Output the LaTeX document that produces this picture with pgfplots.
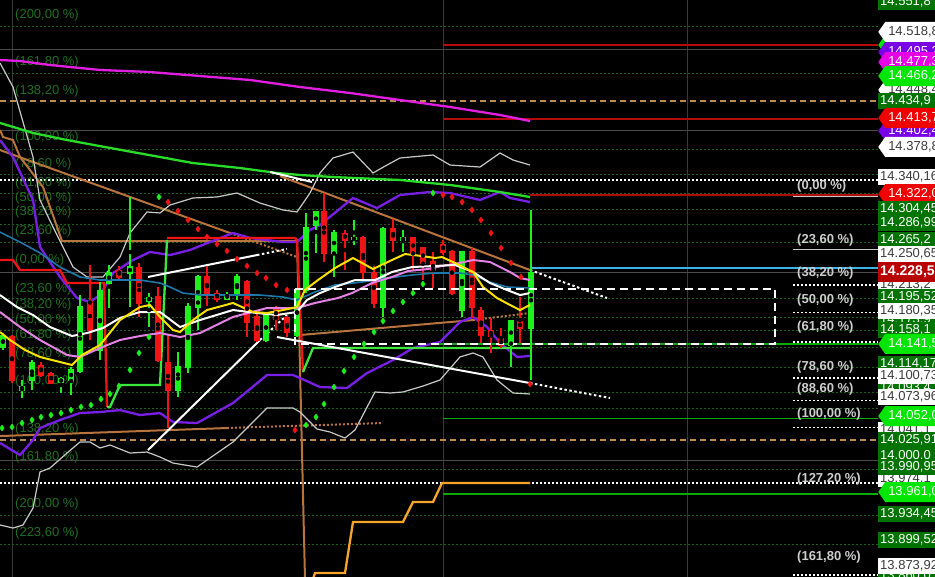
\documentclass[border=0pt]{standalone}
\usepackage{fontspec}
\setmainfont{Liberation Sans}
\usepackage{pgfplots}
\pgfplotsset{compat=1.18}
\usepackage{pgfplotstable}
\usetikzlibrary{shapes.symbols}

\definecolor{gridg}{RGB}{30,95,30}
\definecolor{fibtxt}{RGB}{30,112,30}
\definecolor{fibw}{RGB}{205,205,205}
\definecolor{grayln}{RGB}{75,75,75}
\definecolor{vgrid}{RGB}{55,55,55}
\definecolor{cgreen}{RGB}{30,240,30}
\definecolor{cred}{RGB}{240,20,20}
\definecolor{myellow}{RGB}{250,225,0}
\definecolor{mpink}{RGB}{230,130,230}
\definecolor{mblue}{RGB}{30,120,170}
\definecolor{mpurple}{RGB}{120,30,230}
\definecolor{lgray}{RGB}{200,200,200}
\definecolor{mgreen}{RGB}{40,220,40}
\definecolor{mmagenta}{RGB}{225,30,225}
\definecolor{brown}{RGB}{185,115,60}
\definecolor{orangel}{RGB}{245,165,40}
\definecolor{dred}{RGB}{180,10,10}
\definecolor{lvlgreen}{RGB}{10,170,10}
\definecolor{odash}{RGB}{190,140,80}
\definecolor{ltgreen}{RGB}{60,230,60}
\definecolor{cyanl}{RGB}{60,180,230}
\definecolor{lbdark}{RGB}{0,115,0}
\definecolor{lbbright}{RGB}{0,230,0}
\definecolor{lbred}{RGB}{240,0,0}
\definecolor{lbcur}{RGB}{185,0,0}
\definecolor{lbmag}{RGB}{230,0,230}
\definecolor{lbpur}{RGB}{120,0,230}
\definecolor{lbtxt}{RGB}{60,60,60}

% candles: x o h l c
\pgfplotstableread{
x o h l c
3 14138.3 14155.2 14134.7 14151.6
22 14086.4 14098.5 14076.7 14091.2
32 14098.5 14122.6 14086.4 14119.0
61 14096.1 14102.1 14082.8 14099.7
71 14098.5 14114.2 14080.4 14110.6
80 14109.3 14201.1 14106.9 14187.8
100 14134.7 14216.8 14122.6 14207.2
109 14215.6 14237.4 14185.4 14228.9
130 14227.7 14319.5 14186.6 14234.9
149 14193.9 14203.5 14162.5 14198.7
178 14086.4 14132.3 14077.9 14114.2
188 14114.2 14191.5 14106.9 14186.6
198 14186.6 14225.3 14158.9 14222.9
227 14196.3 14204.8 14195.1 14202.3
237 14203.5 14226.5 14195.1 14222.9
266 14146.8 14179.4 14144.4 14177.0
297 14152.8 14209.6 14150.4 14207.2
306 14207.2 14300.2 14203.5 14283.3
316 14285.7 14302.6 14251.9 14301.4
334 14251.9 14279.6 14222.9 14276.0
354 14268.0 14291.7 14261.5 14270.0
383 14186.6 14283.3 14174.6 14282.0
403 14267.6 14279.6 14253.1 14270.0
462 14183.0 14254.3 14174.6 14253.1
511 14140.7 14170.9 14114.2 14170.9
531 14161.3 14303.8 14098.5 14228.5
}\greenc

\pgfplotstableread{
x o h l c
12 14150.4 14152.8 14094.8 14098.5
41 14116.6 14120.2 14102.1 14104.5
51 14106.9 14108.1 14093.6 14094.8
90 14192.7 14237.4 14146.8 14158.9
119 14231.3 14236.2 14220.5 14222.9
139 14234.9 14239.8 14174.6 14191.5
158 14198.7 14210.8 14120.2 14122.6
168 14120.2 14152.8 14040.5 14086.4
207 14222.9 14236.2 14187.8 14203.5
217 14203.5 14207.2 14192.7 14196.3
247 14218.0 14219.2 14150.4 14168.5
257 14174.6 14179.4 14144.4 14146.8
276 14186.6 14187.8 14158.9 14172.1
287 14173.4 14175.8 14150.4 14156.5
324 14301.4 14324.3 14241.0 14251.9
345 14276.0 14279.6 14231.3 14267.6
363 14270.0 14272.4 14219.2 14228.9
374 14227.7 14236.2 14185.4 14191.5
393 14282.0 14292.9 14253.1 14267.6
413 14270.0 14271.2 14231.3 14251.9
423 14257.9 14259.1 14219.2 14239.8
433 14241.0 14253.1 14209.6 14231.3
443 14262.7 14267.6 14249.4 14253.1
452 14253.1 14255.5 14201.1 14203.5
472 14253.1 14257.9 14173.4 14186.6
481 14183.0 14186.6 14143.2 14152.8
491 14158.9 14173.4 14131.1 14151.6
501 14148.0 14161.3 14137.1 14140.7
520 14168.5 14198.7 14143.2 14161.3
}\redc

\tikzset{
  fibl/.style={anchor=west, inner sep=0pt, font=\fontsize{13}{15}\selectfont, text=fibtxt},
  fibr/.style={anchor=west, inner sep=0pt, font=\fontsize{13}{15}\selectfont\bfseries, text=fibw},
  pbox/.style={anchor=west, inner xsep=2pt, inner ysep=0pt, minimum height=16pt,
    text width=62pt, align=left, font=\fontsize{13}{15}\selectfont},
  parr/.style={pbox, shape=signal, signal to=west, signal pointer angle=110,
    minimum height=20pt, inner xsep=3pt},
}

\begin{document}
\begin{tikzpicture}
\begin{axis}[
  width=935pt, height=577pt, scale only axis,
  xmin=0, xmax=935, ymin=13860.6, ymax=14557.4,
  axis line style={draw=none}, ticks=none,
  axis background/.style={fill=black},
]
% vertical separators
\addplot[vgrid, line width=1pt] coordinates {(12,13860.6)(12,14557.4)};
\addplot[vgrid, line width=0.8pt] coordinates {(443,13860.6)(443,14557.4)};
\addplot[vgrid, line width=0.8pt] coordinates {(687,13860.6)(687,14557.4)};

% dotted green grid levels
\foreach \p in {14526.0,14469.2,14377.4,14347.3,14324.3,14304.45,14286.99,14265.2,
                14197.5,14173.9,14158.1,14138.3,14114.17,14084.0,14064.7,
                13990.95,13934.45,13899.52}{
  \edef\tmp{\noexpand\addplot[gridg, line width=0.8pt, dash pattern=on 2pt off 2pt]
    coordinates {(0,\p)(878,\p)};}\tmp
}
% gray solid levels
\addplot[grayln, line width=1pt] coordinates {(0,14498.2)(878,14498.2)};
\addplot[grayln, line width=1pt] coordinates {(0,14399.2)(878,14399.2)};
\addplot[grayln, line width=1pt] coordinates {(0,14228.5)(878,14228.5)};
\addplot[grayln, line width=1pt] coordinates {(0,14000.7)(878,14000.7)};
% orange dashed levels
\addplot[odash, line width=2pt, dash pattern=on 6pt off 4pt] coordinates {(0,14434.9)(878,14434.9)};
\addplot[odash, line width=2pt, dash pattern=on 6pt off 4pt] coordinates {(0,14025.9)(878,14025.9)};
% white dotted long levels
\addplot[white, line width=1.5pt, dash pattern=on 2pt off 2pt] coordinates {(0,14340.16)(878,14340.16)};
\addplot[white, line width=1.5pt, dash pattern=on 2pt off 2pt] coordinates {(0,13974.1)(878,13974.1)};
% right fibo lines
\addplot[lgray, line width=1pt] coordinates {(793,14319.5)(878,14319.5)};
\addplot[lgray, line width=1pt] coordinates {(793,14255.5)(878,14255.5)};
\foreach \p in {14213.2,14180.35,14144.4,14100.73,14073.96,14041.1,13863.0}{
  \edef\tmp{\noexpand\addplot[white, line width=1.3pt, dash pattern=on 2pt off 2pt]
    coordinates {(793,\p)(878,\p)};}\tmp
}
% red / green horizontal levels
\addplot[dred, line width=1.8pt] coordinates {(443,14503.1)(878,14503.1)};
\addplot[dred, line width=1.8pt] coordinates {(443,14413.7)(878,14413.7)};
\addplot[dred, line width=1.8pt] coordinates {(530,14322.0)(878,14322.0)};
\addplot[lvlgreen, line width=1.8pt] coordinates {(437,14141.5)(878,14141.5)};
\addplot[lvlgreen, line width=1.8pt] coordinates {(443,14052.0)(878,14052.0)};
\addplot[lvlgreen, line width=1.8pt] coordinates {(443,13961.0)(878,13961.0)};
\addplot[cyanl, line width=1.5pt] coordinates {(530,14234.0)(878,14234.0)};

% left fibo labels
\node[fibl] at (15,14539.3) {(200,00 \%)};
\node[fibl] at (15,14482.5) {(161,80 \%)};
\node[fibl] at (15,14447.5) {(138,20 \%)};
\node[fibl] at (15,14391.9) {(100,00 \%)};
\node[fibl] at (15,14359.3) {(78,60 \%)};
\node[fibl] at (15,14336.4) {(61,80 \%)};
\node[fibl] at (15,14318.3) {(50,00 \%)};
\node[fibl] at (15,14301.4) {(38,20 \%)};
\node[fibl] at (15,14278.4) {(23,60 \%)};
\node[fibl] at (15,14243.4) {(0,00 \%)};
\node[fibl] at (15,14208.4) {(23,60 \%)};
\node[fibl] at (15,14189.1) {(38,20 \%)};
\node[fibl] at (15,14170.9) {(50,00 \%)};
\node[fibl] at (15,14152.8) {(61,80 \%)};
\node[fibl] at (15,14129.9) {(78,60 \%)};
\node[fibl] at (15,14097.3) {(100,00 \%)};
\node[fibl] at (15,14039.3) {(138,20 \%)};
\node[fibl] at (15,14005.5) {(161,80 \%)};
\node[fibl] at (15,13948.7) {(200,00 \%)};
\node[fibl] at (15,13913.7) {(223,60 \%)};

% brown lines
\addplot[brown, line width=2pt] coordinates {(0,14400.4)(3,14391.9)(13,14388.3)(20,14367.8)(43,14331.6)(62,14266.3)(297,14266.3)(305,13858)};
\addplot[brown, line width=2pt] coordinates {(0,14376.2)(230,14276.0)};
\addplot[brown, line width=2pt, dash pattern=on 2pt off 2pt] coordinates {(230,14276.0)(297,14247.0)};
\addplot[brown, line width=2pt] coordinates {(280,14344.8)(530,14231.3)};
\addplot[brown, line width=2pt] coordinates {(0,14030.8)(227,14040.5)};
\addplot[brown, line width=2pt, dash pattern=on 2pt off 2pt] coordinates {(227,14040.5)(382,14046.5)};
\addplot[brown, line width=2pt] coordinates {(300,14152.8)(473,14170.9)};
\addplot[brown, line width=2pt, dash pattern=on 2pt off 2pt] coordinates {(473,14170.9)(530,14179.4)};

% gray bands
\addplot[lgray, line width=1.2pt] coordinates {(0,14481.3)(13,14452.3)(33,14367.8)(40,14315.9)(53,14283.3)(73,14234.9)(87,14222.9)(103,14222.9)(120,14247.0)(130,14276.0)(147,14301.4)(160,14300.2)(170,14309.8)(193,14318.3)(217,14319.5)(237,14324.3)(260,14312.2)(283,14303.8)(297,14301.4)(310,14324.3)(320,14348.5)(333,14366.6)(353,14373.8)(373,14348.5)(387,14358.1)(400,14366.6)(433,14370.2)(450,14358.1)(480,14355.7)(500,14372.6)(513,14364.2)(530,14358.1)};
\addplot[lgray, line width=1.2pt] coordinates {(0,13923.4)(13,13919.7)(23,13923.4)(33,13943.9)(40,13987.4)(50,13992.2)(67,14010.3)(80,14023.6)(90,14023.6)(100,14016.4)(110,14020.0)(130,14010.3)(147,14011.5)(160,14005.5)(173,13998.2)(197,13993.4)(233,14023.6)(267,14064.7)(293,14064.7)(300,14059.8)(317,14039.3)(330,14035.7)(345,14028.4)(355,14038.1)(375,14084.0)(390,14082.8)(403,14084.0)(423,14091.2)(440,14098.5)(460,14126.3)(473,14131.1)(483,14126.3)(497,14098.5)(513,14082.8)(530,14081.6)};
% purple bands
\addplot[mpurple, line width=2.3pt] coordinates {(0,14388.3)(13,14367.8)(33,14315.9)(40,14259.1)(60,14222.9)(77,14197.5)(90,14192.7)(100,14201.1)(113,14227.7)(133,14243.4)(150,14253.1)(170,14249.4)(190,14255.5)(210,14265.1)(233,14276.0)(250,14270.0)(283,14265.1)(297,14265.1)(310,14279.6)(320,14285.7)(353,14318.3)(377,14306.2)(400,14321.9)(430,14325.5)(450,14324.3)(480,14315.9)(500,14325.5)(510,14318.3)(530,14313.4)};
\addplot[mpurple, line width=2.3pt] coordinates {(0,14022.4)(20,14007.9)(33,14026.0)(40,14040.5)(60,14050.2)(80,14058.6)(100,14059.8)(120,14062.2)(140,14056.2)(160,14058.6)(173,14047.8)(197,14046.5)(233,14070.7)(267,14104.5)(293,14104.5)(300,14100.9)(320,14090.0)(347,14088.8)(367,14106.9)(393,14122.6)(413,14137.1)(440,14144.4)(460,14168.5)(473,14174.6)(487,14162.5)(500,14143.2)(517,14126.3)(530,14127.5)};
% slow green and magenta averages
\addplot[mgreen, line width=2.3pt] coordinates {(0,14408.9)(33,14396.8)(67,14388.3)(110,14378.7)(160,14367.8)(193,14360.5)(240,14354.5)(277,14348.5)(300,14346.1)(333,14343.6)(400,14340.0)(450,14334.0)(500,14325.5)(530,14319.5)};
\addplot[mmagenta, line width=2.3pt] coordinates {(0,14484.9)(20,14483.7)(50,14478.9)(100,14472.9)(150,14470.4)(200,14465.6)(250,14460.8)(300,14452.3)(350,14445.1)(400,14436.6)(450,14428.2)(500,14418.5)(530,14411.3)};

% step line
\addplot[cred, line width=2.3pt] coordinates {(0,14243.4)(13,14243.4)(20,14231.3)(60,14231.3)(67,14215.6)(104,14215.6)(107,14065.9)};
\addplot[ltgreen, line width=2.3pt] coordinates {(107,14065.9)(110,14065.9)(120,14092.4)(160,14092.4)(167,14267.6)};
\addplot[cred, line width=2.3pt] coordinates {(167,14270.0)(295,14270.0)(297,14267.6)(303,14108.1)};
\addplot[ltgreen, line width=2.3pt] coordinates {(303,14108.1)(313,14137.1)(530,14137.1)};

% white trend lines
\addplot[white, line width=2pt] coordinates {(270,14349.7)(312,14337.6)};
\addplot[white, line width=2pt] coordinates {(148,14013.9)(260,14146.8)};
\addplot[white, line width=2pt, dash pattern=on 2.5pt off 2.5pt] coordinates {(260,14146.8)(287,14177.0)};
\addplot[white, line width=2pt] coordinates {(148,14222.9)(257,14249.4)};
\addplot[white, line width=2pt, dash pattern=on 2.5pt off 2.5pt] coordinates {(257,14249.4)(287,14256.7)};
\addplot[white, line width=2pt] coordinates {(277,14150.4)(530,14094.8)};
\addplot[white, line width=2pt, dash pattern=on 2.5pt off 2.5pt] coordinates {(530,14094.8)(610,14076.7)};
\addplot[white, line width=2pt, dash pattern=on 2.5pt off 2.5pt] coordinates {(530,14231.3)(607,14197.5)};

% candles
\addplot[only marks, mark=none, error bars/.cd, y dir=both, y explicit, error mark=none,
  error bar style={line width=1.5pt, cgreen}]
  table[x=x, y expr={(\thisrow{h}+\thisrow{l})/2}, y error expr={(\thisrow{h}-\thisrow{l})/2}] {\greenc};
\addplot[only marks, mark=none, error bars/.cd, y dir=both, y explicit, error mark=none,
  error bar style={line width=6.5pt, cgreen}]
  table[x=x, y expr={(\thisrow{o}+\thisrow{c})/2}, y error expr={abs(\thisrow{o}-\thisrow{c})/2+0.7}] {\greenc};
\addplot[only marks, mark=none, error bars/.cd, y dir=both, y explicit, error mark=none,
  error bar style={line width=1.5pt, cred}]
  table[x=x, y expr={(\thisrow{h}+\thisrow{l})/2}, y error expr={(\thisrow{h}-\thisrow{l})/2}] {\redc};
\addplot[only marks, mark=none, error bars/.cd, y dir=both, y explicit, error mark=none,
  error bar style={line width=6.5pt, cred}]
  table[x=x, y expr={(\thisrow{o}+\thisrow{c})/2}, y error expr={abs(\thisrow{o}-\thisrow{c})/2+0.7}] {\redc};

% fast averages
\addplot[mblue, line width=1.6pt] coordinates {(0,14277.2)(20,14265.1)(40,14251.9)(60,14234.9)(80,14222.9)(100,14219.2)(140,14219.2)(160,14215.6)(170,14210.8)(183,14203.5)(200,14201.1)(260,14201.1)(283,14198.7)(297,14195.1)(315,14204.8)(335,14213.2)(362,14216.8)(388,14221.7)(412,14225.3)(435,14227.7)(460,14227.7)(473,14225.3)(490,14216.8)(507,14210.8)(530,14209.6)};
\addplot[mpink, line width=2pt] coordinates {(0,14180.6)(20,14162.5)(40,14146.8)(67,14128.7)(80,14126.3)(100,14137.1)(120,14146.8)(140,14151.6)(160,14155.2)(180,14150.4)(200,14155.2)(233,14174.6)(267,14185.4)(297,14185.4)(315,14191.5)(338,14197.5)(352,14203.5)(372,14215.6)(392,14222.9)(408,14230.1)(428,14232.5)(442,14236.2)(455,14238.6)(473,14243.4)(490,14241.0)(510,14228.9)(520,14221.7)(530,14219.2)};
\addplot[white, line width=2pt] coordinates {(0,14201.1)(17,14186.6)(33,14177.0)(50,14162.5)(72,14151.6)(87,14155.2)(103,14161.3)(120,14173.4)(140,14180.6)(160,14180.6)(180,14162.5)(200,14170.9)(233,14183.0)(257,14179.4)(277,14177.0)(297,14180.6)(307,14195.1)(320,14203.5)(335,14210.8)(355,14219.2)(375,14219.2)(392,14228.9)(412,14234.9)(435,14236.2)(455,14237.4)(473,14228.9)(490,14215.6)(507,14207.2)(520,14201.1)(530,14203.5)};
\addplot[myellow, line width=2pt] coordinates {(0,14156.4)(10,14146.8)(25,14134.7)(40,14126.3)(60,14120.2)(72,14116.6)(82,14128.7)(100,14140.7)(120,14170.9)(140,14186.6)(150,14189.1)(160,14174.6)(173,14158.9)(180,14156.4)(193,14170.9)(207,14183.0)(233,14191.5)(253,14180.6)(267,14179.4)(283,14183.0)(297,14186.6)(305,14207.2)(318,14219.2)(335,14233.7)(353,14245.8)(373,14232.5)(392,14243.4)(405,14250.6)(422,14248.2)(435,14245.8)(442,14247.0)(455,14239.8)(473,14228.9)(483,14210.8)(497,14197.5)(510,14189.1)(520,14183.0)(530,14189.1)};

% parabolic dots
\addplot[only marks, mark=diamond*, mark size=3pt, cred] coordinates {(168,14313.4)(178,14302.6)(188,14291.7)(198,14280.8)(207,14271.2)(217,14262.7)(227,14254.3)(237,14244.6)(247,14236.2)(257,14227.7)(266,14221.7)(276,14213.2)(287,14207.2)(295,14038.1)(443,14321.9)(452,14319.5)(462,14313.4)(472,14303.8)(481,14291.7)(491,14276.0)(501,14257.9)(511,14239.8)(521,14222.9)(530,14093.6)};
\addplot[only marks, mark=diamond*, mark size=3pt, cgreen] coordinates {(2,14040.5)(12,14041.7)(22,14046.5)(32,14050.2)(41,14053.8)(51,14056.2)(61,14058.6)(71,14062.2)(81,14065.9)(91,14068.3)(101,14075.5)(110,14081.6)(119,14091.2)(130,14110.6)(139,14131.1)(149,14150.4)(159,14319.5)(306,14044.1)(316,14053.8)(324,14069.5)(334,14090.0)(344,14109.3)(354,14126.3)(364,14142.0)(374,14156.4)(383,14169.7)(393,14181.8)(403,14192.7)(413,14203.5)(423,14214.4)(433,14324.3)};

% orange step
\addplot[orangel, line width=2.3pt] coordinates {(313,13858)(315,13865.4)(345,13865.4)(353,13927.0)(403,13927.0)(413,13951.1)(433,13951.1)(442,13974.1)(530,13974.1)};

% dashed box
\addplot[white, line width=2.5pt, dash pattern=on 8pt off 5pt] coordinates {(295,14208.4)(775,14208.4)(775,14142.0)(295,14142.0)(295,14208.4)};

% right fibo labels
\node[fibr] at (797,14332.8) {(0,00 \%)};
\node[fibr] at (797,14267.6) {(23,60 \%)};
\node[fibr] at (797,14227.7) {(38,20 \%)};
\node[fibr] at (797,14195.1) {(50,00 \%)};
\node[fibr] at (797,14162.5) {(61,80 \%)};
\node[fibr] at (797,14114.2) {(78,60 \%)};
\node[fibr] at (797,14087.6) {(88,60 \%)};
\node[fibr] at (797,14057.4) {(100,00 \%)};
\node[fibr] at (797,13978.9) {(127,20 \%)};
\node[fibr] at (797,13884.7) {(161,80 \%)};

% price scale labels (partly hidden first)
\node[pbox, fill=lbdark, text=white] at (878,14555.0) {14.551,8};
\node[parr, fill=lbbright, text=white] at (878,14503.1) {14.504,0};
\node[parr, fill=lbpur, text=white] at (878,14494.6) {14.495,2};
\node[parr, fill=lbmag, text=white] at (878,14482.5) {14.477,3};
\node[parr, fill=white, text=lbtxt] at (878,14448.7) {14.448,4};
\node[pbox, fill=lbdark, text=white] at (878,14435.4) {14.434,9};
\node[parr, fill=lbpur, text=white] at (878,14399.2) {14.402,4};
\node[pbox, fill=white, text=lbtxt] at (878,14343.6) {14.340,16};
\node[pbox, fill=lbdark, text=white] at (878,14267.6) {14.265,2};
\node[pbox, fill=white, text=lbtxt] at (878,14213.2) {14.213,2};
\node[pbox, fill=lbdark, text=white] at (878,14170.9) {14.173,9};
\node[pbox, fill=lbdark, text=white] at (878,14158.9) {14.158,1};
\node[pbox, fill=lbdark, text=white] at (878,14088.8) {14.093,4};
\node[pbox, fill=white, text=lbtxt] at (878,14077.9) {14.073,96};
\node[pbox, fill=white, text=lbtxt] at (878,14038.1) {14.041,1};
\node[pbox, fill=lbdark, text=white] at (878,14006.7) {14.000,0};
\node[pbox, fill=white, text=lbtxt] at (878,13978.9) {13.974,1};
\node[pbox, fill=lbdark, text=white] at (878,13861.8) {13.860,0};
% visible labels
\node[parr, fill=white, text=lbtxt] at (878,14518.8) {14.518,8};
\node[parr, fill=lbbright, text=white] at (878,14465.6) {14.466,2};
\node[parr, fill=lbred, text=white] at (878,14414.9) {14.413,7};
\node[parr, fill=white, text=lbtxt] at (878,14379.9) {14.378,8};
\node[parr, fill=lbred, text=white] at (878,14323.1) {14.322,0};
\node[pbox, fill=lbdark, text=white] at (878,14305.0) {14.304,45};
\node[pbox, fill=lbdark, text=white] at (878,14288.1) {14.286,99};
\node[pbox, fill=white, text=lbtxt] at (878,14250.6) {14.250,65};
\node[pbox, fill=lbdark, text=white] at (878,14198.7) {14.195,52};
\node[pbox, fill=white, text=lbtxt] at (878,14181.8) {14.180,35};
\node[parr, fill=lbbright, text=white] at (878,14142.0) {14.141,5};
\node[pbox, fill=lbdark, text=white] at (878,14117.8) {14.114,17};
\node[pbox, fill=white, text=lbtxt] at (878,14103.3) {14.100,73};
\node[parr, fill=lbbright, text=white] at (878,14055.0) {14.052,0};
\node[pbox, fill=lbdark, text=white] at (878,14026.0) {14.025,91};
\node[pbox, fill=lbdark, text=white] at (878,13993.4) {13.990,95};
\node[parr, fill=lbbright, text=white] at (878,13963.2) {13.961,0};
\node[pbox, fill=lbdark, text=white] at (878,13936.6) {13.934,45};
\node[pbox, fill=lbdark, text=white] at (878,13905.3) {13.899,52};
\node[pbox, fill=white, text=lbtxt] at (878,13873.8) {13.873,92};
\node[pbox, fill=lbcur, text=white, minimum height=20pt, font=\fontsize{14}{16}\selectfont\bfseries] at (878,14228.9) {14.228,5};
\end{axis}
\pgfresetboundingbox
\useasboundingbox (current axis.south west) rectangle (current axis.north east);
\end{tikzpicture}
\end{document}
